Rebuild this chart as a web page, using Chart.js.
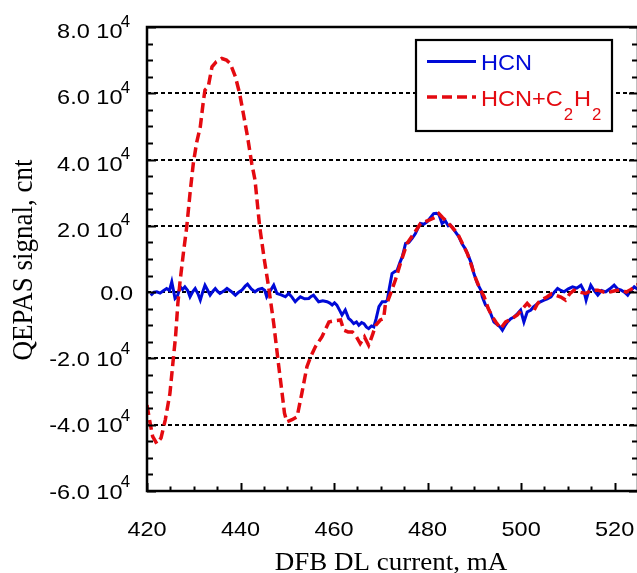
<!DOCTYPE html>
<html>
<head>
<meta charset="utf-8">
<script src="https://cdn.jsdelivr.net/npm/chart.js@4.4.0/dist/chart.umd.min.js"></script>
<style>
    body { margin: 0; overflow: hidden; background: #fff; }
</style>
</head>
<body>
<canvas id="graficoQepas" width="645" height="573"></canvas>
<script>
// HCN only (mA, counts)
const hcnCorrente = [420.8, 421.5, 422.1, 422.8, 423.5, 424.2, 424.8, 425.3, 426.0, 426.5, 427.1, 427.6, 428.1, 428.7, 429.2, 429.8, 430.3, 430.9, 431.4, 431.9, 432.4, 433.0, 433.5, 434.1, 434.6, 435.1, 435.6, 436.4, 437.1, 438.0, 438.9, 439.6, 440.3, 441.0, 441.5, 442.3, 443.1, 443.8, 444.6, 445.2, 445.6, 446.4, 447.1, 447.8, 448.7, 449.6, 450.3, 451.0, 451.7, 452.3, 452.8, 453.7, 454.6, 455.1, 455.6, 456.2, 456.7, 457.6, 458.5, 459.1, 459.6, 460.1, 460.6, 461.2, 461.7, 462.4, 463.1, 463.6, 464.2, 464.8, 465.3, 465.9, 466.4, 466.9, 467.4, 468.0, 468.5, 469.0, 469.6, 470.3, 471.0, 471.4, 471.8, 472.4, 473.0, 473.5, 474.1, 474.6, 475.3, 476.0, 476.7, 477.4, 478.0, 478.5, 479.2, 479.9, 480.6, 481.3, 481.9, 482.4, 483.1, 483.8, 484.4, 484.9, 485.8, 486.7, 487.4, 488.1, 488.8, 489.4, 489.9, 490.7, 491.4, 491.7, 492.4, 492.8, 493.5, 494.2, 494.9, 495.5, 496.0, 496.6, 497.1, 497.8, 498.5, 499.2, 499.9, 500.6, 501.3, 502.1, 502.6, 503.1, 504.0, 504.9, 505.6, 506.4, 507.1, 507.8, 508.5, 509.2, 510.1, 511.0, 511.9, 512.8, 513.4, 513.9, 514.4, 514.9, 515.6, 516.4, 517.2, 518.1, 519.0, 519.9, 520.6, 521.4, 522.1, 522.8, 523.5, 524.2, 525.0];
const hcnSinal = [-1000, 0, 100, -300, 400, 1100, 500, 3100, -1900, -1200, 1600, 800, 1600, 500, -1400, 200, 1100, -500, -2400, 0, 2100, 500, -900, 300, 1100, 200, -400, 300, 1100, 200, -900, 0, 600, 1800, 2400, 1000, 100, 800, 1100, 500, -1400, 500, 2100, -400, -800, -1400, -400, -1500, -2900, -2000, -1400, -2000, -1900, -1300, -900, -2000, -2900, -2600, -2900, -3300, -3900, -3200, -3900, -5500, -6900, -5400, -7900, -8500, -9500, -9000, -10000, -9200, -9500, -10500, -11000, -10200, -10500, -8000, -4400, -2900, -2900, -2400, 1000, 5600, 6200, 6600, 9000, 10700, 14700, 15000, 16200, 17700, 19500, 20700, 20500, 21200, 22500, 23700, 23800, 23500, 20700, 21500, 20000, 20200, 18500, 16700, 14500, 13000, 10700, 8500, 5600, 2500, 600, -1400, -3900, -4400, -6500, -9000, -9800, -10500, -11500, -10000, -9000, -8000, -7500, -6500, -5400, -9000, -6000, -5400, -4500, -3900, -3000, -2400, -2000, -1400, 0, 1100, 500, 100, 1000, 1600, 1200, 2100, 500, -2400, 0, 2100, 500, -900, 500, 100, 1000, 2100, 1000, 600, 0, -900, 500, 1600, 800];

// HCN + C2H2
const misturaCorrente = [420.0, 420.6, 421.2, 422.1, 423.0, 423.9, 424.9, 425.6, 426.1, 426.6, 427.1, 427.8, 428.5, 429.2, 429.9, 430.6, 431.4, 432.0, 432.4, 433.1, 433.9, 434.8, 436.0, 437.0, 437.8, 438.9, 439.8, 440.6, 441.5, 442.4, 443.1, 444.1, 445.1, 446.0, 446.4, 447.1, 448.1, 448.9, 449.4, 449.9, 451.0, 452.1, 453.1, 454.2, 455.0, 456.0, 457.4, 458.9, 459.9, 461.4, 462.1, 463.0, 463.9, 464.8, 465.6, 466.5, 467.4, 468.2, 468.9, 469.9, 470.6, 471.0, 471.4, 472.1, 473.1, 474.2, 475.6, 477.1, 478.5, 480.3, 481.5, 482.4, 483.2, 484.2, 485.3, 486.4, 487.5, 488.5, 489.4, 490.3, 491.2, 492.1, 493.0, 493.9, 494.6, 495.6, 496.7, 498.0, 499.2, 500.3, 501.3, 502.0, 502.8, 503.5, 504.2, 505.6, 506.5, 507.4, 508.5, 509.5, 510.4, 511.3, 512.5, 513.8, 515.0, 516.4, 517.8, 519.2, 520.3, 521.4, 522.5, 523.5, 524.6, 525.5];
const misturaSinal = [-34100, -39000, -43500, -45700, -44000, -38600, -30600, -20500, -13500, -3400, 3600, 12000, 19700, 29800, 38800, 45000, 49900, 57000, 61000, 62000, 68000, 69500, 70500, 70000, 69000, 65000, 60000, 53900, 46900, 38800, 33800, 19700, 9700, 1600, -2400, -9500, -21500, -30600, -36500, -39100, -38500, -37600, -30600, -22500, -19500, -16500, -13500, -9000, -8700, -8400, -11500, -12000, -12000, -13500, -15500, -13500, -16000, -13000, -10000, -8400, -8000, -3400, -3000, -400, 3600, 8700, 14700, 17700, 20700, 21700, 22500, 23700, 22500, 21200, 19500, 17700, 14500, 11700, 8000, 4100, 1000, -1400, -5000, -7500, -9000, -11000, -9000, -8000, -6900, -5000, -3400, -4500, -5400, -3500, -2400, -1400, -500, -900, -1500, -2400, -500, 600, 0, -400, 500, 600, 0, 100, 500, 600, 0, 800, 2100, 2500];

const xTicks = [420, 440, 460, 480, 500, 520];
const yTicks = [80000, 60000, 40000, 20000, 0, -20000, -40000, -60000];
const legendaNomes = ['HCN', 'HCN+C2H2'];

const azul = 'rgb(0, 10, 215)';
const vermelho = 'rgb(228, 10, 16)';

function pontos(xs, ys) {
    return xs.map(function (x, i) { return { x: x, y: ys[i] }; });
}

// texto esticado na horizontal, como no original
function textoEsticado(ctx, texto, x, y, fonte, esc, alinhar) {
    ctx.save();
    ctx.font = fonte;
    ctx.textAlign = alinhar;
    ctx.textBaseline = 'alphabetic';
    ctx.translate(x, y);
    ctx.scale(esc, 1);
    ctx.fillText(texto, 0, 0);
    const w = ctx.measureText(texto).width * esc;
    ctx.restore();
    return w;
}

const eixosPlugin = {
    id: 'eixos',
    afterDraw: function (chart) {
        const ctx = chart.ctx;
        const a = chart.chartArea;
        const sx = chart.scales.x;
        const sy = chart.scales.y;
        ctx.save();
        ctx.strokeStyle = '#000';
        ctx.fillStyle = '#000';
        ctx.lineWidth = 2.5;
        ctx.setLineDash([]);
        ctx.strokeRect(a.left, a.top, a.right - a.left, a.bottom - a.top);

        // ticks do eixo y (esquerda e direita)
        ctx.lineWidth = 2;
        for (let v = -60000; v <= 80000; v += 5000) {
            const y = Math.round(sy.getPixelForValue(v)) + 0.5;
            const len = (v % 20000 === 0) ? 9 : 6;
            ctx.beginPath();
            ctx.moveTo(a.left, y); ctx.lineTo(a.left + len, y);
            ctx.moveTo(a.right, y); ctx.lineTo(a.right - len, y);
            ctx.stroke();
        }
        // ticks do eixo x
        for (let v = 420; v <= 525; v += 5) {
            const x = Math.round(sx.getPixelForValue(v)) + 0.5;
            const len = (v % 20 === 0) ? 8 : 4.5;
            ctx.beginPath();
            ctx.moveTo(x, a.bottom); ctx.lineTo(x, a.bottom - len);
            ctx.stroke();
        }

        // rotulos y
        yTicks.forEach(function (v) {
            const y = sy.getPixelForValue(v);
            if (v === 0) {
                textoEsticado(ctx, '0.0', 133, y + 7.5, '21px "Liberation Sans", Arial', 1.12, 'right');
            } else {
                const base = y + (v > 0 ? 11 : 7.5);
                textoEsticado(ctx, (v / 10000).toFixed(1) + ' 10', 122.5, base, '21px "Liberation Sans", Arial', 1.12, 'right');
                textoEsticado(ctx, '4', 130, base - 11.5, '16px "Liberation Sans", Arial', 1.05, 'right');
            }
        });
        // rotulos x
        xTicks.forEach(function (v) {
            textoEsticado(ctx, String(v), sx.getPixelForValue(v), 536, '21px "Liberation Sans", Arial', 1.12, 'center');
        });

        // titulos
        textoEsticado(ctx, 'DFB DL current, mA', 391, 570, '25px "Liberation Serif", "Times New Roman", serif', 1.08, 'center');
        ctx.save();
        ctx.translate(32, 260);
        ctx.rotate(-Math.PI / 2);
        ctx.scale(1, 1.1);
        ctx.font = '27px "Liberation Serif", "Times New Roman", serif';
        ctx.textAlign = 'center';
        ctx.textBaseline = 'alphabetic';
        ctx.fillText('QEPAS signal, cnt', 0, 0);
        ctx.restore();

        // legenda
        ctx.fillStyle = '#fff';
        ctx.fillRect(416, 40, 196, 91);
        ctx.lineWidth = 2.2;
        ctx.strokeStyle = '#000';
        ctx.strokeRect(416, 40, 196, 91);

        ctx.lineWidth = 3;
        ctx.strokeStyle = azul;
        ctx.beginPath(); ctx.moveTo(427, 61.5); ctx.lineTo(476, 61.5); ctx.stroke();
        ctx.fillStyle = azul;
        textoEsticado(ctx, legendaNomes[0], 481, 70, '22px "Liberation Sans", Arial', 1.07, 'left');

        ctx.lineWidth = 3.5;
        ctx.strokeStyle = vermelho;
        ctx.setLineDash([10, 5]);
        ctx.beginPath(); ctx.moveTo(427, 97); ctx.lineTo(476, 97); ctx.stroke();
        ctx.setLineDash([]);
        ctx.fillStyle = vermelho;
        // HCN+C2H2 com indices
        let x = 481;
        x += textoEsticado(ctx, 'HCN+C', x, 105.7, '22px "Liberation Sans", Arial', 1.07, 'left');
        x += textoEsticado(ctx, '2', x + 1, 120, '16px "Liberation Sans", Arial', 1.05, 'left') + 2;
        x += textoEsticado(ctx, 'H', x, 105.7, '22px "Liberation Sans", Arial', 1.07, 'left');
        textoEsticado(ctx, '2', x + 1, 120, '16px "Liberation Sans", Arial', 1.05, 'left');

        ctx.restore();
    }
};

const config = {
    type: 'line',
    data: {
        datasets: [{
            label: legendaNomes[0],
            data: pontos(hcnCorrente, hcnSinal),
            borderColor: azul,
            borderWidth: 3,
            pointRadius: 0,
            tension: 0,
            order: 1
        }, {
            label: legendaNomes[1],
            data: pontos(misturaCorrente, misturaSinal),
            borderColor: vermelho,
            borderWidth: 3.5,
            borderDash: [10, 5],
            pointRadius: 0,
            tension: 0,
            order: 0
        }]
    },
    options: {
        responsive: false,
        animation: false,
        layout: { padding: { left: 147, top: 27, right: 7, bottom: 82 } },
        plugins: {
            legend: { display: false },
            tooltip: { enabled: false }
        },
        scales: {
            x: {
                type: 'linear',
                min: 420,
                max: 525,
                afterBuildTicks: function (s) { s.ticks = xTicks.map(function (v) { return { value: v }; }); },
                ticks: { display: false },
                grid: { display: false, drawTicks: false },
                border: { display: false },
                title: { display: false }
            },
            y: {
                min: -60000,
                max: 80000,
                afterBuildTicks: function (s) { s.ticks = yTicks.map(function (v) { return { value: v }; }); },
                ticks: { display: false },
                grid: {
                    drawTicks: false,
                    lineWidth: 2,
                    color: function (c) {
                        const v = c.tick ? c.tick.value : 0;
                        return (v === 80000 || v === -60000) ? 'rgba(0,0,0,0)' : '#000';
                    }
                },
                border: { display: false, dash: [4, 3] },
                title: { display: false }
            }
        }
    },
    plugins: [eixosPlugin]
};

new Chart(document.getElementById('graficoQepas'), config);
</script>
</body>
</html>
